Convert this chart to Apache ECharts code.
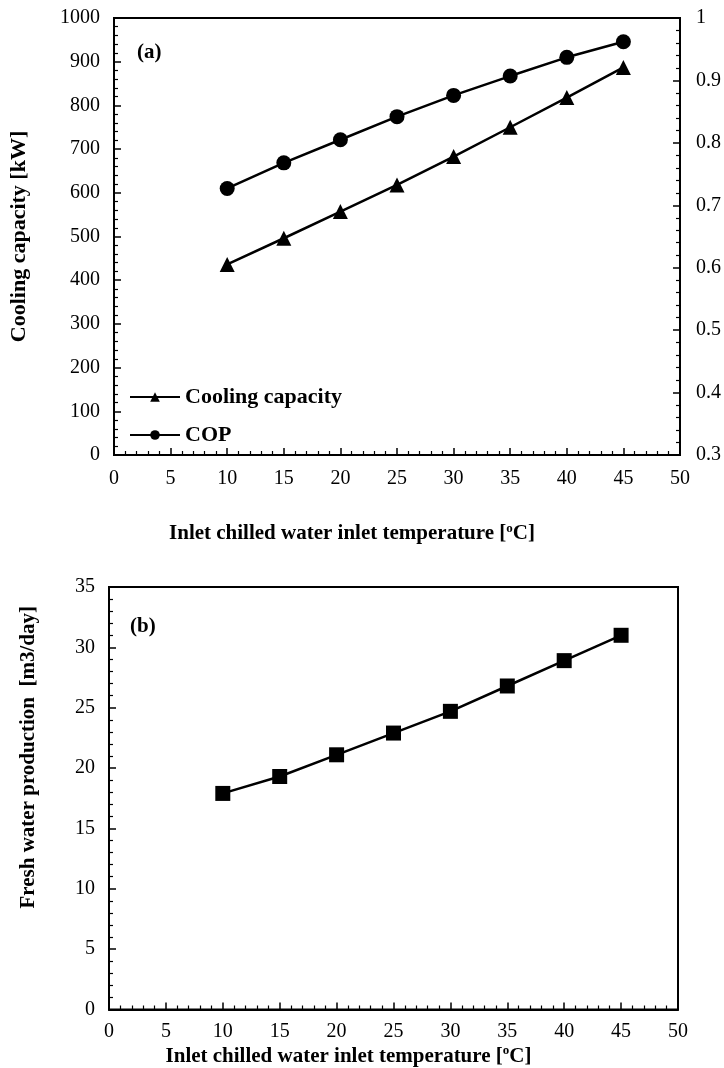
<!DOCTYPE html>
<html>
<head>
<meta charset="utf-8">
<script src="https://cdn.jsdelivr.net/npm/echarts@6/dist/echarts.min.js"></script>
<style>
html, body { margin: 0; padding: 0; background: #fff; }
#chart { width: 724px; height: 1068px; }
</style>
</head>
<body>
<div id="chart"></div>
<script>
// chilled water inlet temperature [oC]
const temps = [10, 15, 20, 25, 30, 35, 40, 45];
// panel (a)
const coolingCapacity = [436, 496, 557, 618, 683, 750, 818, 887];
const cop = [0.727, 0.768, 0.805, 0.842, 0.876, 0.907, 0.937, 0.962];
// panel (b)
const freshWater = [17.9, 19.3, 21.1, 22.9, 24.7, 26.8, 28.9, 31.0];

const FONT = "'Liberation Serif', 'Times New Roman', serif";
const tickFont = { color: '#000', fontSize: 20, fontFamily: FONT };
const titleFont = { color: '#000', fontSize: 21, fontWeight: 'bold', fontFamily: FONT };

function pairs(ys) {
	return temps.map((t, i) => [t, ys[i]]);
}

// shared look of every axis: black line, ticks pointing into the plot
function axisBase(extra) {
	return Object.assign({
		type: 'value',
		axisLine: { show: true, onZero: false, lineStyle: { color: '#000', width: 2 } },
		axisTick: { show: true, inside: true, length: 7, lineStyle: { color: '#000', width: 1.5 } },
		minorTick: { show: true, splitNumber: 5, length: 4, lineStyle: { color: '#000', width: 1.2 } },
		splitLine: { show: false },
		axisLabel: Object.assign({ margin: 14, formatter: (v) => String(+v.toFixed(2)) }, tickFont),
	}, extra);
}

const xTitle = '{t|Inlet chilled water inlet temperature [}{s|o}{t|C]}';
const xTitleStyle = {
	padding: [0, 90, 0, 0],
	rich: {
		t: titleFont,
		s: { color: '#000', fontSize: 13, fontWeight: 'bold', fontFamily: FONT, verticalAlign: 'top', lineHeight: 24 }
	}
};

const chart = echarts.init(document.getElementById('chart'));
chart.setOption({
	animation: false,
	backgroundColor: '#fff',
	grid: [
		{ left: 113, right: 43, top: 18, height: 437, show: true, borderColor: '#000', borderWidth: 2 },
		{ left: 109, right: 46, top: 587, height: 426, show: true, borderColor: '#000', borderWidth: 2 }
	],
	legend: {
		orient: 'vertical',
		left: 129,
		top: 386,
		padding: 0,
		itemWidth: 50,
		itemHeight: 12,
		itemGap: 16,
		textStyle: Object.assign({}, titleFont, { fontSize: 22 }),
		data: ['Cooling capacity', 'COP']
	},
	xAxis: [
		axisBase({
			gridIndex: 0, min: 0, max: 50, interval: 5,
			name: xTitle, nameLocation: 'middle', nameGap: 67, nameTextStyle: xTitleStyle
		}),
		axisBase({
			gridIndex: 1, min: 0, max: 50, interval: 5,
			axisLabel: Object.assign({ margin: 12 }, tickFont),
			name: xTitle, nameLocation: 'middle', nameGap: 35, nameTextStyle: xTitleStyle
		})
	],
	yAxis: [
		axisBase({
			gridIndex: 0, min: 0, max: 1000, interval: 100,
			name: 'Cooling capacity [kW]', nameLocation: 'middle', nameGap: 84,
			nameTextStyle: Object.assign({}, titleFont, { fontSize: 22 })
		}),
		axisBase({
			gridIndex: 0, position: 'right', min: 0.3, max: 1, interval: 0.1,
			axisLabel: Object.assign({ margin: 16, formatter: (v) => String(+v.toFixed(2)) }, tickFont)
		}),
		axisBase({
			gridIndex: 1, min: 0, max: 35, interval: 5,
			name: 'Fresh water production  [m3/day]', nameLocation: 'middle', nameGap: 70,
			nameTextStyle: Object.assign({ padding: [0, 0, 0, 82] }, titleFont)
		})
	],
	series: [
		{
			name: 'Cooling capacity', type: 'line', xAxisIndex: 0, yAxisIndex: 0,
			symbol: 'triangle', symbolSize: 15,
			lineStyle: { color: '#000', width: 2.5 }, itemStyle: { color: '#000' },
			data: pairs(coolingCapacity)
		},
		{
			name: 'COP', type: 'line', xAxisIndex: 0, yAxisIndex: 1,
			symbol: 'circle', symbolSize: 15,
			lineStyle: { color: '#000', width: 2.5 }, itemStyle: { color: '#000' },
			data: pairs(cop)
		},
		{
			name: 'Fresh water production', type: 'line', xAxisIndex: 1, yAxisIndex: 2,
			symbol: 'rect', symbolSize: 15,
			lineStyle: { color: '#000', width: 2.5 }, itemStyle: { color: '#000' },
			data: pairs(freshWater)
		}
	],
	graphic: [
		{ type: 'text', left: 137, top: 42, style: Object.assign({ text: '(a)' }, titleFont) },
		{ type: 'text', left: 130, top: 616, style: Object.assign({ text: '(b)' }, titleFont) }
	]
});
</script>
</body>
</html>
